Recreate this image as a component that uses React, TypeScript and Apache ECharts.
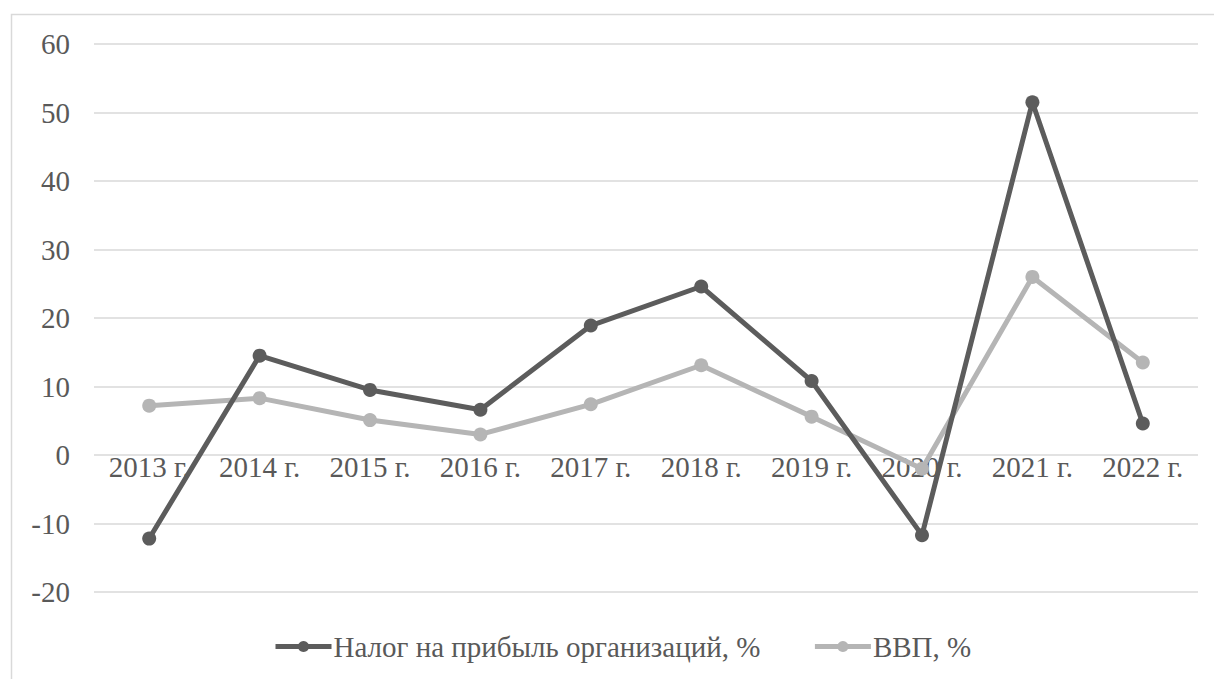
import React, { useEffect, useRef } from "react";
import * as echarts from "echarts";

const categories = ["2013 г.", "2014 г.", "2015 г.", "2016 г.", "2017 г.", "2018 г.", "2019 г.", "2020 г.", "2021 г.", "2022 г."];
const taxValues = [-12.2, 14.5, 9.5, 6.6, 18.9, 24.6, 10.8, -11.7, 51.5, 4.6];
const gdpValues = [7.2, 8.3, 5.1, 3.0, 7.4, 13.1, 5.6, -2.0, 26.0, 13.5];
const taxName = "Налог на прибыль организаций, %";
const gdpName = "ВВП, %";

const FONT = "Liberation Serif";
const TEXT = "#595959";
const DARK = "#5c5c5c";
const LIGHT = "#b5b5b5";
const GRID = "#d9d9d9";

export default function App() {
  const ref = useRef<HTMLDivElement>(null);
  useEffect(() => {
    document.body.style.margin = "0";
    const chart = echarts.init(ref.current!, null, { renderer: "svg" });
    chart.setOption({
      animation: false,
      backgroundColor: "#ffffff",
      graphic: [
        {
          type: "rect",
          shape: { x: 11.5, y: 14.5, width: 1300, height: 800 },
          style: { fill: "none", stroke: GRID, lineWidth: 1.5 },
          silent: true,
        },
      ],
      grid: { left: 94, right: 16, top: 44, bottom: 87, containLabel: false },
      legend: {
        left: 268,
        top: 627,
        itemWidth: 56,
        itemHeight: 14,
        itemGap: 52,
        lineStyle: { width: 5 },
        textStyle: { fontFamily: FONT, fontSize: 29, color: TEXT, padding: [0, 0, 0, -3] },
        data: [taxName, gdpName],
      },
      xAxis: {
        type: "category",
        data: categories,
        boundaryGap: true,
        offset: -137,
        axisLine: { show: false, onZero: false },
        axisTick: { show: false },
        axisLabel: { fontFamily: FONT, fontSize: 29, color: TEXT, margin: -3, interval: 0 },
        splitLine: { show: false },
      },
      yAxis: {
        type: "value",
        min: -20,
        max: 60,
        interval: 10,
        axisLine: { show: false },
        axisTick: { show: false },
        axisLabel: { fontFamily: FONT, fontSize: 29, color: TEXT, margin: 24 },
        splitLine: { lineStyle: { color: GRID, width: 1.5 } },
      },
      series: [
        {
          name: taxName,
          type: "line",
          data: taxValues,
          symbol: "circle",
          symbolSize: 14,
          lineStyle: { color: DARK, width: 5 },
          itemStyle: { color: DARK },
          z: 3,
        },
        {
          name: gdpName,
          type: "line",
          data: gdpValues,
          symbol: "circle",
          symbolSize: 14,
          lineStyle: { color: LIGHT, width: 5 },
          itemStyle: { color: LIGHT },
          z: 2,
        },
      ],
    });
    return () => chart.dispose();
  }, []);
  return <div ref={ref} style={{ width: 1214, height: 679 }} />;
}
